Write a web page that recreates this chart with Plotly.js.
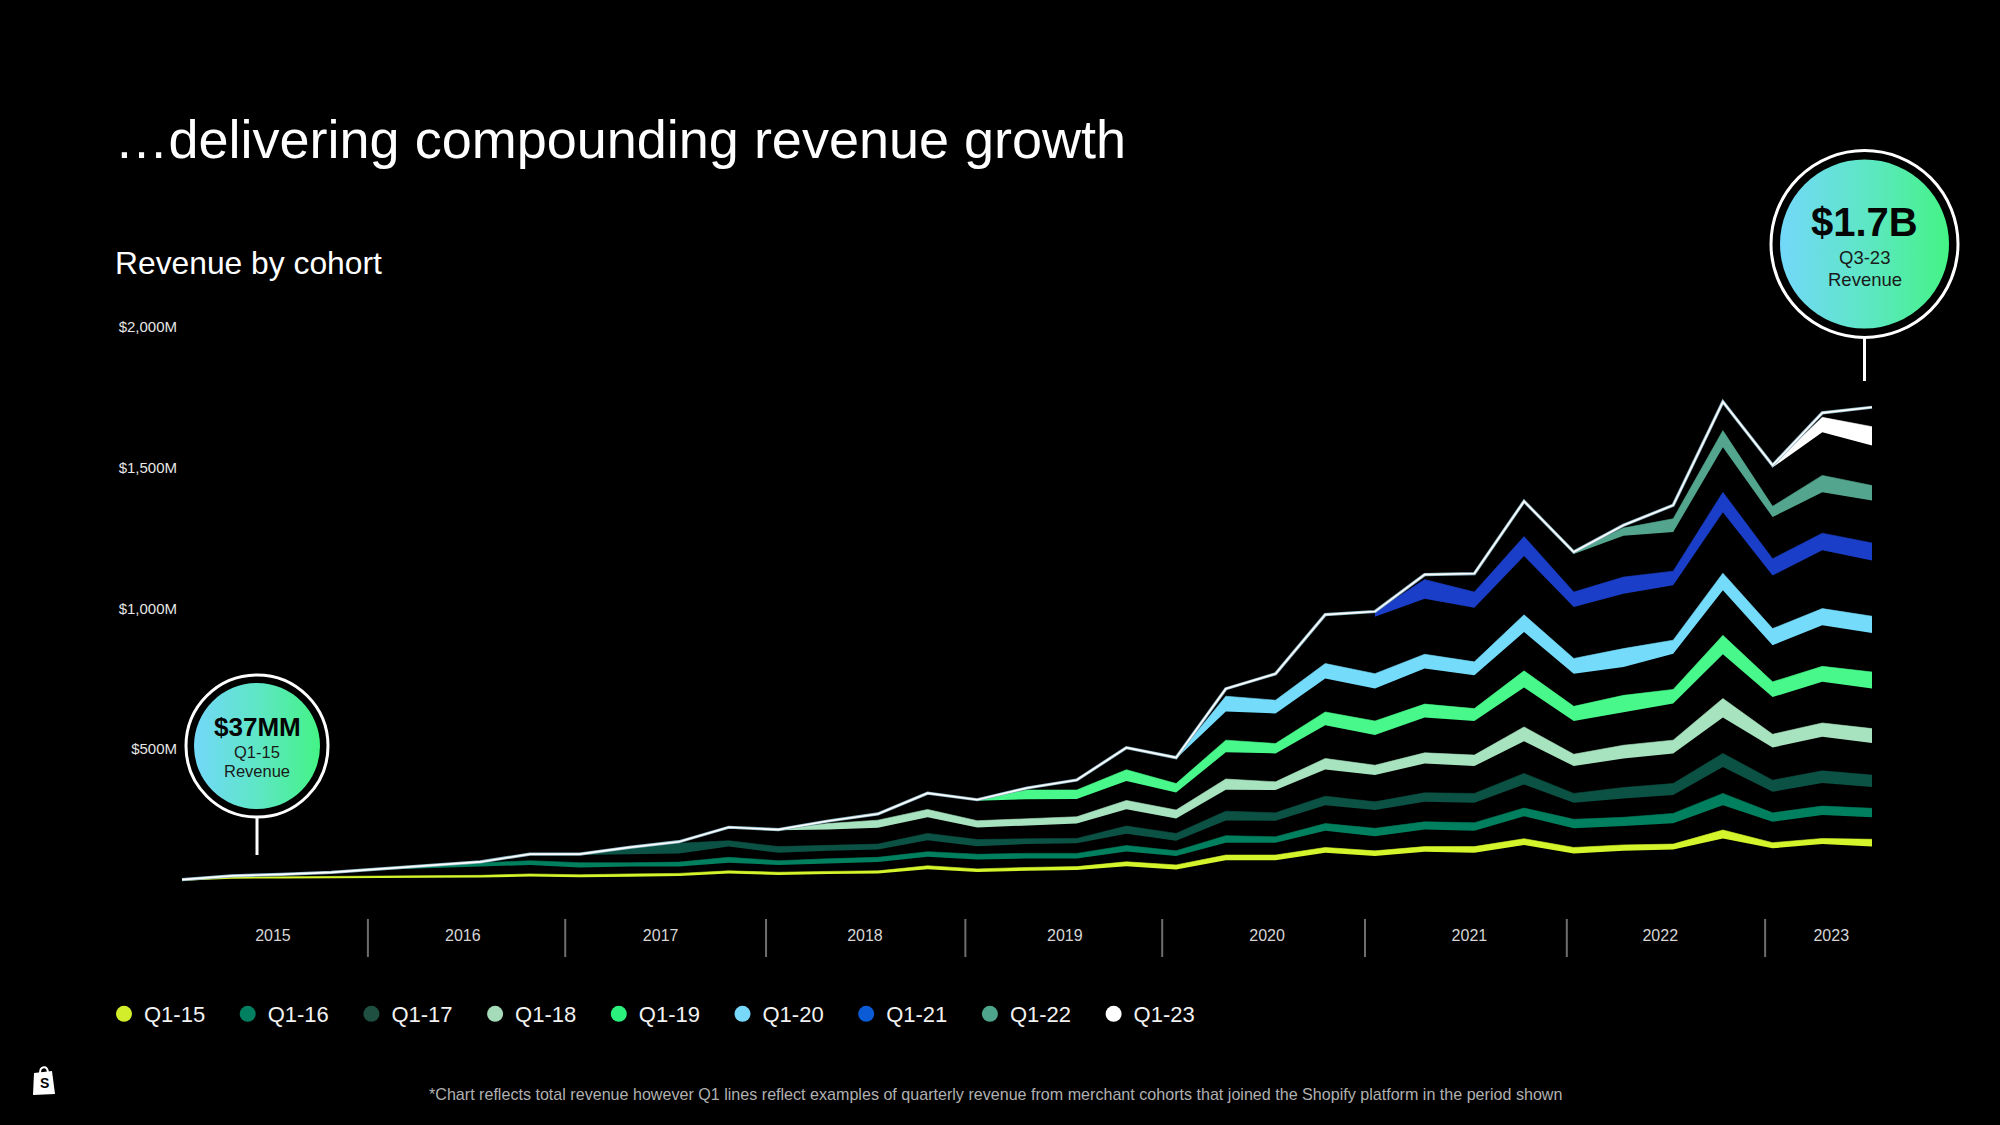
<!DOCTYPE html>
<html>
<head>
<meta charset="utf-8">
<script src="https://cdn.plot.ly/plotly-3.0.1.min.js"></script>
<style>html,body{margin:0;padding:0;background:#000;}#chart{width:2000px;height:1125px;}</style>
</head>
<body>
<div id="chart"></div>
<script>
// ---------------- DATA ($M) ----------------
const quarters = ['Q1-15','Q2-15','Q3-15','Q4-15','Q1-16','Q2-16','Q3-16','Q4-16','Q1-17','Q2-17','Q3-17','Q4-17',
  'Q1-18','Q2-18','Q3-18','Q4-18','Q1-19','Q2-19','Q3-19','Q4-19','Q1-20','Q2-20','Q3-20','Q4-20',
  'Q1-21','Q2-21','Q3-21','Q4-21','Q1-22','Q2-22','Q3-22','Q4-22','Q1-23','Q2-23','Q3-23'];
const years = ['2015','2016','2017','2018','2019','2020','2021','2022','2023'];
const yearLabelPos = [1.83, 5.65, 9.63, 13.74, 17.76, 21.83, 25.9, 29.74, 33.18];
const yearSeparators = [3.74, 7.71, 11.75, 15.76, 19.72, 23.8, 27.86, 31.85];
const yTickVals = [500, 1000, 1500, 2000];
const yTickText = ['$500M', '$1,000M', '$1,500M', '$2,000M'];

// total quarterly revenue (white line)
const totalRevenue = [37.0, 50.2, 55.4, 62.5, 75.0, 86.6, 99.7, 127.5, 127.4, 151.3, 171.5, 222.8,
  214.3, 245.0, 270.0, 343.8, 320.5, 362.0, 390.6, 505.2, 470.0, 714.3, 767.4, 977.7,
  988.6, 1119.6, 1123.5, 1380.2, 1200.0, 1295.0, 1366.0, 1733.0, 1508.0, 1694.0, 1714.0];

// cohort bands: lower and upper edge (cumulative $M), starting at the cohort's first quarter
const q115Start = 0;
const q115Low  = [33,40,41,42,43,43,44,48,45,47,50,59,53,57,59,74,64,68,71,84,73,106,106,132,121,136,132,160,130,139,144,183,148,163,154];
const q115High = [37,46,47,48,49,50,52,57,54,57,59,68,63,66,68,86,75,80,83,100,89,124,124,151,139,154,154,182,151,160,163,213,168,183,180];

const q116Start = 4;
const q116Low  = [72,77,82,89,80,83,83,97,89,95,99,118,108,112,112,137,121,168,168,210,191,215,210,262,219,227,237,301,242,266,258];
const q116High = [75,86,96,104,97,97,99,116,104,111,116,136,127,130,130,158,139,193,189,236,219,242,239,291,251,258,272,343,274,298,290];

const q117Start = 8;
const q117Low  = [124,128,130,154,132,139,144,177,155,163,166,200,175,247,246,301,284,313,310,375,310,325,337,437,349,380,366];
const q117High = [127,148,166,175,154,158,163,201,179,182,183,227,201,280,274,333,313,345,343,414,343,364,378,485,390,423,408];

const q118Start = 12;
const q118Low  = [212,215,221,258,222,230,236,287,254,356,355,428,408,449,440,528,440,467,485,612,506,544,522];
const q118High = [215,236,248,286,246,254,260,318,284,394,384,467,443,487,479,579,482,514,532,680,553,593,573];

const q119Start = 16;
const q119Low  = [317,322,323,387,346,489,485,585,550,612,600,719,600,632,662,837,685,739,715];
const q119High = [320,355,355,427,378,532,520,632,600,660,644,778,652,691,712,904,739,794,774];

const q120Start = 20;
const q120Low  = [466,634,627,751,715,786,762,916,768,792,839,1064,869,940,912];
const q120High = [470,688,674,804,768,837,810,977,822,857,887,1125,928,999,972];

const q121Start = 24;
const q121Low  = [970,1034,1002,1186,1005,1052,1082,1341,1117,1206,1170];
const q121High = [987,1102,1058,1255,1058,1111,1132,1412,1176,1267,1232];

const q122Start = 28;
const q122Low  = [1193,1258,1271,1572,1324,1412,1383];
const q122High = [1200,1285,1318,1631,1362,1472,1436];

const q123Start = 32;
const q123Low  = [1500,1625,1578];
const q123High = [1508,1678,1645];

const cohortNames  = ['Q1-15','Q1-16','Q1-17','Q1-18','Q1-19','Q1-20','Q1-21','Q1-22','Q1-23'];
const bandColors   = ['#d4f52b','#00805e','#0b5244','#a7e3bf','#48f88a','#75dbfb','#1a3ec8','#53a68d','#ffffff'];
const legendColors = ['#d2ee2a','#008060','#1e4f41','#a5dbb9','#2cf07d','#78d8fa','#0b5ad6','#4fa58b','#ffffff'];

// ---------------- GEOMETRY ----------------
const W = 2000, H = 1125;
const PL = 180, PR = 1900, PT = 300, PB = 900;
const unitPx = 49.706, x0Px = 182;          // pixel position of first quarter, px per quarter
const yZeroPx = 890, pxPerM = 422.5 / 1500;
const xRange = [(PL - x0Px) / unitPx, (PR - x0Px) / unitPx];
const yRange = [(yZeroPx - PB) / pxPerM, (yZeroPx - PT) / pxPerM];
const px = x => (x - PL) / (PR - PL);
const py = y => (PB - y) / (PB - PT);
const idxToPaper = i => (i - xRange[0]) / (xRange[1] - xRange[0]);

const FONT = 'Liberation Sans, Arial, Helvetica, sans-serif';

// ---------------- TRACES ----------------
const bands = [
  [q115Start, q115Low, q115High], [q116Start, q116Low, q116High], [q117Start, q117Low, q117High],
  [q118Start, q118Low, q118High], [q119Start, q119Low, q119High], [q120Start, q120Low, q120High],
  [q121Start, q121Low, q121High], [q122Start, q122Low, q122High], [q123Start, q123Low, q123High]
];

const traces = [];
bands.forEach((b, k) => {
  const [start, low, high] = b;
  const xs = low.map((_, i) => start + i);
  const txt = xs.map(i => quarters[i]);
  traces.push({x: xs, y: low, text: txt, mode: 'lines', line: {width: 0, color: bandColors[k]},
    showlegend: false, hoverinfo: 'skip'});
  traces.push({x: xs, y: high, text: txt, mode: 'lines', fill: 'tonexty', fillcolor: bandColors[k],
    line: {width: 0.6, color: bandColors[k]}, showlegend: false, hoverinfo: 'skip'});
});

const allIdx = quarters.map((_, i) => i);
traces.push({x: allIdx, y: totalRevenue, mode: 'lines', line: {color: '#8fb6c6', width: 3.2},
  showlegend: false, hoverinfo: 'skip'});
traces.push({x: allIdx, y: totalRevenue, mode: 'lines', line: {color: '#ffffff', width: 1.6},
  showlegend: false, hoverinfo: 'skip'});

cohortNames.forEach((n, k) => {
  traces.push({x: [null], y: [null], mode: 'markers', name: n,
    marker: {size: 16, color: legendColors[k], symbol: 'circle'}, showlegend: true});
});

// ---------------- DECORATIONS ----------------
function badgeSvg(ringR, diskR) {
  const S = Math.ceil(2 * ringR + 6);
  const c = S / 2;
  const svg = '<svg xmlns="http://www.w3.org/2000/svg" width="' + S + '" height="' + S + '" viewBox="0 0 ' + S + ' ' + S + '">' +
    '<defs><linearGradient id="g" x1="0" y1="0" x2="1" y2="0">' +
    '<stop offset="0" stop-color="#73d8f9"/><stop offset="0.5" stop-color="#5ee6c6"/><stop offset="1" stop-color="#44f385"/></linearGradient></defs>' +
    '<circle cx="' + c + '" cy="' + c + '" r="' + ringR + '" fill="#000" stroke="#ffffff" stroke-width="3"/>' +
    '<circle cx="' + c + '" cy="' + c + '" r="' + diskR + '" fill="url(#g)"/></svg>';
  return {src: 'data:image/svg+xml;base64,' + btoa(svg), size: S};
}
function badgeImage(cx, cy, ringR, diskR) {
  const b = badgeSvg(ringR, diskR);
  return {source: b.src, xref: 'paper', yref: 'paper', x: px(cx - b.size / 2), y: py(cy - b.size / 2),
    sizex: b.size / (PR - PL), sizey: b.size / (PB - PT), xanchor: 'left', yanchor: 'top',
    sizing: 'stretch', layer: 'above'};
}
const bagSvg = '<svg xmlns="http://www.w3.org/2000/svg" width="26" height="32" viewBox="0 0 26 32">' +
  '<path d="M9 9 C9 2 16 1 17 8" fill="none" stroke="#fff" stroke-width="2"/>' +
  '<path d="M3 9 L21 7 L24 30 L2 31 Z" fill="#fff"/></svg>';
const bagImage = {source: 'data:image/svg+xml;base64,' + btoa(bagSvg), xref: 'paper', yref: 'paper',
  x: px(31), y: py(1064), sizex: 26 / (PR - PL), sizey: 32 / (PB - PT), xanchor: 'left', yanchor: 'top',
  sizing: 'stretch', layer: 'above'};

const shapes = [];
yearSeparators.forEach(s => {
  shapes.push({type: 'line', xref: 'paper', yref: 'paper', x0: idxToPaper(s), x1: idxToPaper(s),
    y0: py(919), y1: py(957), line: {color: '#6e6e6e', width: 2}});
});
shapes.push({type: 'line', xref: 'paper', yref: 'paper', x0: px(257), x1: px(257), y0: py(817), y1: py(855),
  line: {color: '#ffffff', width: 3}});
shapes.push({type: 'line', xref: 'paper', yref: 'paper', x0: px(1864.5), x1: px(1864.5), y0: py(338), y1: py(381),
  line: {color: '#ffffff', width: 3}});

function ann(text, x, y, size, color, opts) {
  return Object.assign({text: text, xref: 'paper', yref: 'paper', x: px(x), y: py(y), showarrow: false,
    xanchor: 'center', yanchor: 'middle', font: {family: FONT, size: size, color: color}}, opts || {});
}
const annotations = [
  ann('Revenue by cohort', 113, 263, 31.8, '#ffffff', {xanchor: 'left'}),
  ann('<b>$37MM</b>', 257, 727, 26, '#050505'),
  ann('Q1-15', 257, 752, 16.5, '#1a1a1a'),
  ann('Revenue', 257, 771, 16.5, '#1a1a1a'),
  ann('<b>$1.7B</b>', 1864.5, 222, 40, '#050505'),
  ann('Q3-23', 1864.5, 258, 18.5, '#1a1a1a'),
  ann('Revenue', 1864.5, 280, 18.5, '#1a1a1a'),
  ann('<b>S</b>', 44, 1083, 14, '#000000'),
  ann('*Chart reflects total revenue however Q1 lines reflect examples of quarterly revenue from merchant cohorts that joined the Shopify platform in the period shown',
    995, 1094, 16.1, '#b0b0b0')
];

const layout = {
  width: W, height: H,
  paper_bgcolor: '#000000', plot_bgcolor: '#000000',
  margin: {l: PL, r: W - PR, t: PT, b: H - PB, pad: 0},
  font: {family: FONT, color: '#ffffff'},
  title: {text: '\u2026delivering compounding revenue growth', xref: 'container', yref: 'container',
    x: 114.5 / W, y: 1 - 139 / H, xanchor: 'left', yanchor: 'middle',
    font: {family: FONT, size: 54, color: '#ffffff'}},
  xaxis: {range: xRange, tickmode: 'array', tickvals: yearLabelPos, ticktext: years,
    showgrid: false, zeroline: false, showline: false, ticks: '', ticklabelstandoff: 24,
    tickfont: {family: FONT, size: 16, color: '#d6d6d6'}, fixedrange: true},
  yaxis: {range: yRange, tickmode: 'array', tickvals: yTickVals, ticktext: yTickText,
    showgrid: false, zeroline: false, showline: false, ticks: '', ticklabelstandoff: 2,
    tickfont: {family: FONT, size: 15, color: '#e6e6e6'}, fixedrange: true},
  showlegend: true,
  legend: {orientation: 'h', x: px(104), y: py(1014), xanchor: 'left', yanchor: 'middle',
    entrywidth: 78.7, entrywidthmode: 'pixels', bgcolor: 'rgba(0,0,0,0)', borderwidth: 0,
    font: {family: FONT, size: 22, color: '#f2f2f2'}, traceorder: 'normal'},
  hovermode: false,
  shapes: shapes,
  images: [badgeImage(257, 746, 71, 63), badgeImage(1864.5, 244, 93.5, 84.5), bagImage],
  annotations: annotations
};

Plotly.newPlot('chart', traces, layout, {staticPlot: true, displayModeBar: false});
</script>
</body>
</html>
